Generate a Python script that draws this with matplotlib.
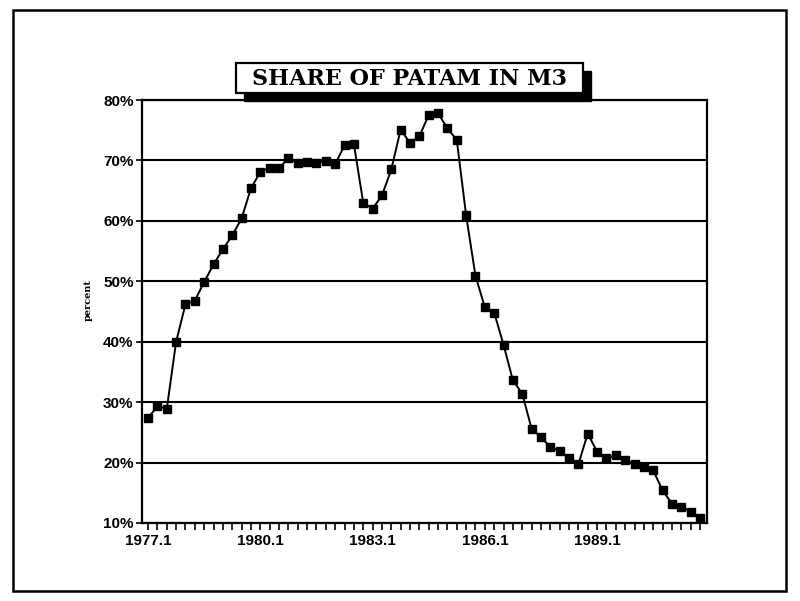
import matplotlib
matplotlib.use("Agg")
import matplotlib.pyplot as plt
from matplotlib.patches import Rectangle
import numpy as np

# quarterly share of PATAM in M3, 1977.1 - 1991.4 (percent)
quarters = [f"{y}.{q}" for y in range(1977, 1992) for q in range(1, 5)]
share = [27.4, 29.3, 28.9, 40.0, 46.2, 46.8, 49.9, 52.8, 55.3, 57.6,
         60.4, 65.4, 68.1, 68.8, 68.7, 70.4, 69.6, 69.8, 69.5, 69.9,
         69.4, 72.5, 72.7, 63.0, 62.0, 64.2, 68.5, 75.1, 72.9, 74.0,
         77.5, 77.8, 75.3, 73.4, 60.9, 50.9, 45.7, 44.8, 39.5, 33.6,
         31.4, 25.6, 24.2, 22.6, 21.9, 20.7, 19.7, 24.8, 21.8, 20.7,
         21.2, 20.4, 19.8, 19.3, 18.7, 15.4, 13.2, 12.7, 11.9, 10.8]
label_quarters = ["1977.1", "1980.1", "1983.1", "1986.1", "1989.1"]
y_ticks = [10, 20, 30, 40, 50, 60, 70, 80]

W, H = 800, 601
fig = plt.figure(figsize=(W / 100, H / 100), dpi=100)


def fx(px):
    return px / W


def fy(py):
    return 1 - py / H


# outer frame
fig.patches.append(Rectangle((fx(13), fy(591)), fx(786) - fx(13), fy(10) - fy(591),
                             transform=fig.transFigure, fill=False, lw=1.8,
                             ec="black", zorder=0))

ax = fig.add_axes([fx(142), fy(523), fx(707) - fx(142), fy(100) - fy(523)])
x = np.arange(len(share))
ax.plot(x, share, color="black", lw=1.4, marker="s", markersize=6,
        markerfacecolor="black", markeredgecolor="black", zorder=3)

ax.set_ylim(10, 80)
ax.set_xlim(-0.65, len(share) - 1 + 0.75)
ax.set_yticks(y_ticks)
ax.set_yticklabels([f"{v}%" for v in y_ticks])
ax.yaxis.grid(True, color="black", lw=1.5)
ax.set_axisbelow(True)

ax.set_xticks(x, minor=True)
ax.set_xticks([quarters.index(q) for q in label_quarters])
ax.set_xticklabels(label_quarters)
ax.tick_params(axis="x", which="both", direction="out", length=5, width=1.2,
               pad=3)
ax.tick_params(axis="y", direction="out", length=4, width=1.2, pad=2)
for lab in ax.get_xticklabels() + ax.get_yticklabels():
    lab.set_fontfamily("Liberation Sans")
    lab.set_fontweight("bold")
    lab.set_fontsize(11)
for s in ax.spines.values():
    s.set_linewidth(1.6)

fig.text(fx(88), fy(300), "percent", rotation=90, ha="center", va="center",
         fontsize=7, fontweight="bold", family="DejaVu Serif")

# title box with drop shadow
bx0, bx1, by0, by1 = 236, 583, 63, 93
fig.patches.append(Rectangle((fx(bx0 + 8), fy(by1 + 8)), fx(bx1) - fx(bx0),
                             fy(by0) - fy(by1), transform=fig.transFigure,
                             fc="black", ec="black", zorder=4))
fig.patches.append(Rectangle((fx(bx0), fy(by1)), fx(bx1) - fx(bx0),
                             fy(by0) - fy(by1), transform=fig.transFigure,
                             fc="white", ec="black", lw=1.6, zorder=5))
fig.text(fx((bx0 + bx1) / 2), fy((by0 + by1) / 2 + 1), "SHARE OF PATAM IN M3",
         ha="center", va="center", fontsize=16, fontweight="bold",
         family="DejaVu Serif", zorder=6)

fig.savefig("out.png", dpi=100)
